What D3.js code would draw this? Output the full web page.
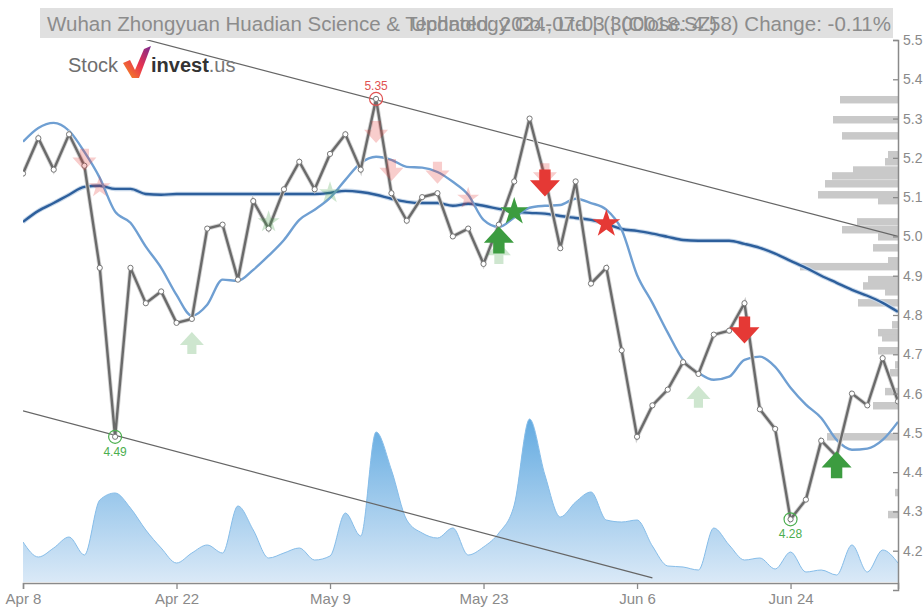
<!DOCTYPE html>
<html><head><meta charset="utf-8">
<script src="https://cdn.jsdelivr.net/npm/d3@7"></script>
<style>
body{margin:0;background:#fff;}
svg{display:block;font-family:"Liberation Sans",Arial,sans-serif;}
</style>
</head><body>
<svg id="chart" width="923" height="610"></svg>
<script>
// ---------------- data ----------------
const dates = ["2024-04-08","2024-04-09","2024-04-10","2024-04-11","2024-04-12","2024-04-15","2024-04-16","2024-04-17","2024-04-18","2024-04-19",
"2024-04-22","2024-04-23","2024-04-24","2024-04-25","2024-04-26","2024-04-29","2024-04-30","2024-05-06","2024-05-07","2024-05-08",
"2024-05-09","2024-05-10","2024-05-13","2024-05-14","2024-05-15","2024-05-16","2024-05-17","2024-05-20","2024-05-21","2024-05-22",
"2024-05-23","2024-05-24","2024-05-27","2024-05-28","2024-05-29","2024-05-30","2024-05-31","2024-06-03","2024-06-04","2024-06-05",
"2024-06-06","2024-06-11","2024-06-12","2024-06-13","2024-06-14","2024-06-17","2024-06-18","2024-06-19","2024-06-20","2024-06-21",
"2024-06-24","2024-06-25","2024-06-26","2024-06-27","2024-06-28","2024-07-01","2024-07-02","2024-07-03"];

const closePrices = [5.16,5.25,5.17,5.26,5.18,4.92,4.49,4.92,4.83,4.86,
4.78,4.79,5.02,5.03,4.89,5.09,5.02,5.12,5.19,5.12,
5.21,5.26,5.17,5.35,5.11,5.04,5.10,5.11,5.00,5.02,
4.93,5.03,5.14,5.30,5.15,4.97,5.14,4.88,4.92,4.71,
4.49,4.57,4.61,4.68,4.65,4.75,4.76,4.83,4.56,4.51,
4.28,4.33,4.48,4.44,4.60,4.57,4.69,4.58];

const maShort = [5.241,5.276,5.289,5.269,5.215,5.149,5.063,5.035,4.974,4.920,
4.851,4.798,4.826,4.890,4.887,4.915,4.951,4.991,5.042,5.068,
5.098,5.144,5.187,5.203,5.195,5.177,5.175,5.164,5.139,5.106,
5.042,5.024,5.048,5.073,5.078,5.080,5.096,5.085,5.068,5.017,
4.902,4.831,4.755,4.686,4.653,4.635,4.643,4.686,4.694,4.668,
4.615,4.572,4.538,4.482,4.457,4.460,4.482,4.528];

const maLong = [5.037,5.065,5.085,5.106,5.126,5.129,5.121,5.121,5.108,5.106,
5.108,5.108,5.108,5.108,5.108,5.108,5.108,5.108,5.108,5.108,
5.111,5.116,5.113,5.106,5.096,5.088,5.085,5.085,5.078,5.083,
5.078,5.070,5.063,5.060,5.058,5.052,5.047,5.042,5.032,5.019,
5.014,5.007,4.999,4.991,4.989,4.989,4.989,4.981,4.971,4.956,
4.938,4.920,4.900,4.882,4.864,4.849,4.831,4.808];

const volumes = [4.0,2.5,3.4,4.5,2.7,8.2,8.9,7.4,5.2,3.4,
1.9,2.9,3.7,2.9,7.6,5.2,2.4,2.9,3.4,2.2,
2.6,6.9,4.6,15.0,11.2,6.2,4.9,4.4,5.4,2.7,
3.5,4.9,7.7,16.3,10.7,6.5,8.0,9.0,6.2,6.0,
6.2,3.6,1.6,1.5,1.2,5.4,3.7,2.2,2.4,1.3,
3.0,1.0,1.2,0.7,3.7,1.0,3.2,1.9];

const tickDates = ["2024-04-08","2024-04-22","2024-05-09","2024-05-23","2024-06-06","2024-06-24"];
const priceTicks = [4.2,4.3,4.4,4.5,4.6,4.7,4.8,4.9,5.0,5.1,5.2,5.3,5.4,5.5];

const profileLevels  = [5.348,5.297,5.256,5.208,5.190,5.169,5.154,5.134,5.106,5.091,5.037,5.017,4.999,4.971,4.938,4.923,4.890,4.874,4.859,4.831,4.775,4.755,4.742,4.709,4.673,4.653,4.605,4.569,4.490,4.348,4.292];
const profileVolumes = [58,65,56,10,13,45,66,73,80,20,41,56,20,25,10,98,30,35,13,40,6,20,16,20,3,8,13,25,71,3,10];

const signalDates  = ["2024-04-12","2024-04-15","2024-04-23","2024-04-30","2024-05-09","2024-05-14","2024-05-15","2024-05-20","2024-05-22","2024-05-24","2024-05-24","2024-05-27","2024-05-29","2024-05-29","2024-06-04","2024-06-14","2024-06-19","2024-06-27"];
const signalTypes  = ["sell","sell","buy","buy","buy","sell","sell","sell","sell","buy","buy","buy","sell","sell","sell","buy","sell","buy"];
const signalShapes = ["arrow","star","arrow","star","star","arrow","arrow","arrow","star","arrow","arrow","star","arrow","arrow","star","arrow","arrow","arrow"];
const signalStrong = [false,false,false,false,false,false,false,false,false,false,true,true,false,true,true,false,true,true];
const signalLevels = [5.195,5.126,4.729,5.037,5.111,5.266,5.169,5.162,5.097,4.958,4.991,5.063,5.158,5.136,5.032,4.592,4.762,4.419];

const extremeDates  = ["2024-05-14","2024-04-16","2024-06-24"];
const extremeValues = [5.35,4.49,4.28];
const extremeKinds  = ["high","low","low"];

const upperTrend = [["2024-04-08",5.583],["2024-07-03",5.0]];
const lowerTrend = [["2024-04-08",4.556],["2024-06-11",4.131]];

const titleLeft  = "Wuhan Zhongyuan Huadian Science & Technology Co., Ltd | (300018.SZ)";
const titleRight = "Updated: 2024-07-03 | (Close: 4.58) Change: -0.11%";

// ---------------- layout ----------------
const svg = d3.select("#chart");
const L = 23, R = 898, T = 40, B = 590, AXY = 583;
const x = d3.scalePoint(dates, [L, R]);
const y = d3.scaleLinear([4.1, 5.5], [B, T]);
const yVol = d3.scaleLinear([0, 17], [582, 412]);
const xProf = d3.scaleLinear([0, 100], [R, R - 100]);

const defs = svg.append("defs");
defs.append("clipPath").attr("id","plot").append("rect")
  .attr("x",L).attr("y",T).attr("width",R-L).attr("height",AXY-T);
const vg = defs.append("linearGradient").attr("id","volg")
  .attr("gradientUnits","userSpaceOnUse").attr("x1",0).attr("x2",0).attr("y1",yVol(17)).attr("y2",yVol(0));
vg.append("stop").attr("offset","0").attr("stop-color","#5ea8e0");
vg.append("stop").attr("offset","1").attr("stop-color","#dae9f7");
const lg = defs.append("linearGradient").attr("id","logog").attr("x1","0").attr("x2","1").attr("y1","1").attr("y2","0");
lg.append("stop").attr("offset","0").attr("stop-color","#f7941d");
lg.append("stop").attr("offset","0.5").attr("stop-color","#e8334f");
lg.append("stop").attr("offset","1").attr("stop-color","#7a2a90");

const plot = svg.append("g").attr("clip-path","url(#plot)");

// volume profile
const barH = Math.abs(y(4.2) - y(4.219));
plot.append("g").selectAll("rect").data(profileLevels).join("rect")
  .attr("x", (d,i) => xProf(profileVolumes[i]))
  .attr("width", (d,i) => R - xProf(profileVolumes[i]))
  .attr("y", d => y(d) - barH/2)
  .attr("height", barH)
  .attr("fill", "#c9c9c9");

// volume area
const vdata = dates.map((d,i) => [d, volumes[i]]);
plot.append("path").datum(vdata)
  .attr("d", d3.area().x(d => x(d[0])).y0(yVol(0)).y1(d => yVol(d[1])).curve(d3.curveMonotoneX))
  .attr("fill","url(#volg)");
plot.append("path").datum(vdata)
  .attr("d", d3.line().x(d => x(d[0])).y(d => yVol(d[1])).curve(d3.curveMonotoneX))
  .attr("fill","none").attr("stroke","#86bde9").attr("stroke-width",1);

// logo
const logo = svg.append("g");
logo.append("text").attr("x",68).attr("y",72).attr("font-size",20).attr("fill","#6e6e6e").text("Stock");
logo.append("path").attr("d","M123,63 L130,60 L135,70 L144,49 L151,46 L139,78 L132,78 Z").attr("fill","url(#logog)");
logo.append("text").attr("x",151).attr("y",72).attr("font-size",20).attr("font-weight","bold").attr("fill","#333")
  .text("invest").append("tspan").attr("font-weight","normal").attr("fill","#777").text(".us");

// trend channel
const tl = d3.line().x(d => x(d[0])).y(d => y(d[1]));
[upperTrend, lowerTrend].forEach(t => {
  plot.append("path").datum(t).attr("d", tl).attr("fill","none").attr("stroke","#666").attr("stroke-width",1.2);
});

// moving averages
const ml = arr => d3.line().x((d,i) => x(dates[i])).y(d => y(d)).curve(d3.curveMonotoneX)(arr);
plot.append("path").attr("d", ml(maLong)).attr("fill","none").attr("stroke","#c8d8ea").attr("stroke-width",4.5);
plot.append("path").attr("d", ml(maLong)).attr("fill","none").attr("stroke","#2d5f9c").attr("stroke-width",2.4);
plot.append("path").attr("d", ml(maShort)).attr("fill","none").attr("stroke","#6f9fd2").attr("stroke-width",2.4);

// price line
const pl = d3.line().x((d,i) => x(dates[i])).y(d => y(d));
plot.append("path").attr("d", pl(closePrices)).attr("fill","none").attr("stroke","#d2d2d2").attr("stroke-width",4.2);
plot.append("path").attr("d", pl(closePrices)).attr("fill","none").attr("stroke","#6a6a6a").attr("stroke-width",2.4);
plot.append("g").selectAll("circle").data(closePrices).join("circle")
  .attr("cx", (d,i) => x(dates[i])).attr("cy", d => y(d)).attr("r", 2.6)
  .attr("fill","#fff").attr("stroke","#777").attr("stroke-width",1);

// signals
function arrowPath(w, h, dir) {
  const s = w * 0.19, hh = h * 0.6, top = -h/2, neck = top + (h - hh);
  const pts = [[-s,top],[s,top],[s,neck],[w/2,neck],[0,h/2],[-w/2,neck],[-s,neck]];
  return "M" + pts.map(p => [p[0], p[1]*dir].join(",")).join("L") + "Z";
}
const sg = svg.append("g");
signalDates.forEach((d,i) => {
  const strong = signalStrong[i];
  const col = signalTypes[i] === "buy" ? "#3c9c40" : "#e53935";
  const g = sg.append("g").attr("transform", `translate(${x(d)},${y(signalLevels[i])})`)
    .attr("opacity", strong ? 1 : 0.25);
  if (signalShapes[i] === "arrow") {
    const w = strong ? 30 : 24, h = strong ? 27 : 22;
    g.append("path").attr("d", arrowPath(w, h, signalTypes[i] === "buy" ? -1 : 1)).attr("fill", col);
  } else {
    g.append("path").attr("d", d3.symbol(d3.symbolStar, strong ? 240 : 150)()).attr("fill", col);
  }
});

// extremes
const eg = svg.append("g");
extremeDates.forEach((d,i) => {
  const col = extremeKinds[i] === "high" ? "#e05252" : "#4cae4f";
  const cx = x(d), cy = y(extremeValues[i]);
  eg.append("circle").attr("cx",cx).attr("cy",cy).attr("r",6.5).attr("fill","none").attr("stroke",col).attr("stroke-width",1.2);
  eg.append("text").attr("x",cx).attr("y", extremeKinds[i] === "high" ? cy - 9 : cy + 19)
    .attr("text-anchor","middle").attr("font-size",12).attr("fill",col).text(extremeValues[i].toFixed(2));
});

// axes
const fmt = d3.timeFormat("%b %-d"), parse = d3.timeParse("%Y-%m-%d");
const ya = svg.append("g").attr("transform",`translate(${R},0)`)
  .call(d3.axisRight(y).tickValues(priceTicks).tickFormat(d3.format(".1f")).tickSizeInner(-5).tickSizeOuter(-5).tickPadding(5));
const xa = svg.append("g").attr("transform",`translate(0,${AXY})`)
  .call(d3.axisBottom(x).tickValues(tickDates).tickFormat(d => fmt(parse(d))).tickSizeInner(6).tickSizeOuter(6).tickPadding(4));
[ya, xa].forEach(a => {
  a.select(".domain").attr("stroke","#8a8a8a").attr("stroke-width",1.5);
  a.selectAll(".tick line").attr("stroke","#8a8a8a").attr("stroke-width",1.3);
  a.selectAll("text").attr("fill","#8a8a8a").attr("font-family","'Liberation Sans',Arial,sans-serif");
});
ya.selectAll("text").attr("font-size",14);
xa.selectAll("text").attr("font-size",15);

// title
svg.append("rect").attr("x",40).attr("y",8).attr("width",853).attr("height",30).attr("fill","#e0e0e0");
svg.append("text").attr("x",47).attr("y",31).attr("font-size",20.5).attr("fill","#8c8c8c").text(titleLeft);
svg.append("text").attr("x",891).attr("y",31).attr("font-size",20.5).attr("text-anchor","end").attr("fill","#8c8c8c").text(titleRight);
</script>
</body></html>
